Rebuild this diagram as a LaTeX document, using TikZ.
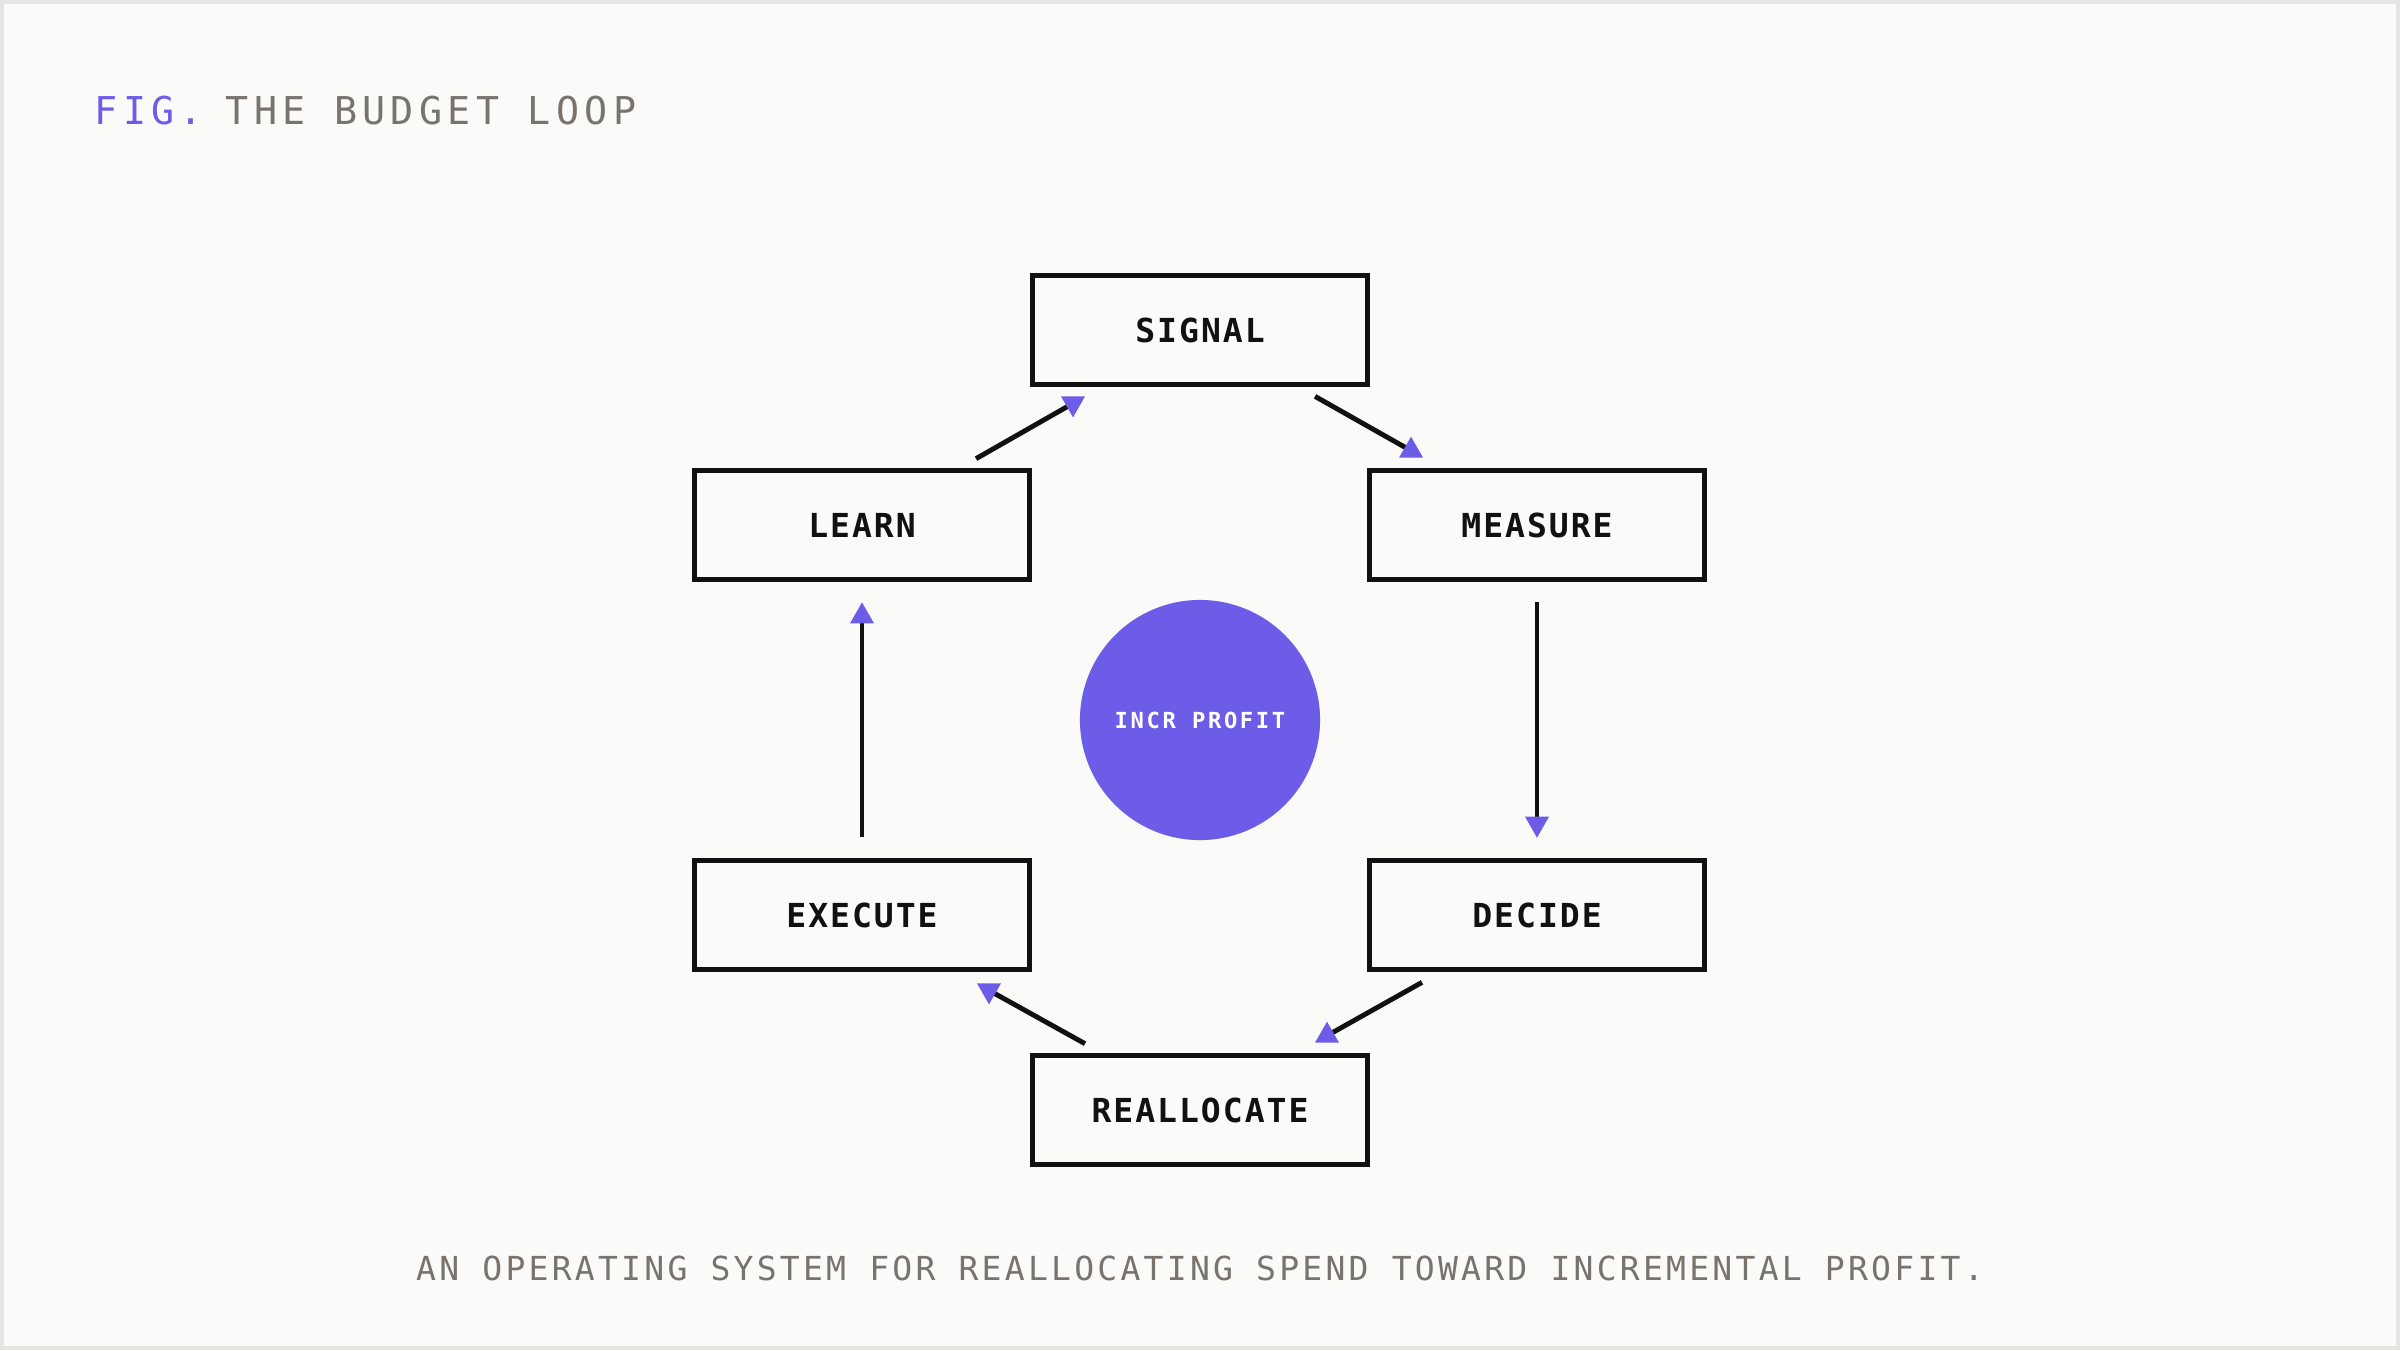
\documentclass[tikz,border=0pt]{standalone}
\usepackage{fontspec}
\usetikzlibrary{calc}
\definecolor{bg}{HTML}{FAFAF8}
\definecolor{frame}{HTML}{E6E5E3}
\definecolor{accent}{HTML}{6C5CE7}
\definecolor{ink}{HTML}{111111}
\definecolor{muted}{HTML}{78736D}
\newfontfamily\titlefont[LetterSpace=14]{DejaVu Sans Mono}
\newfontfamily\stagefont[LetterSpace=6]{DejaVu Sans Mono}
\newfontfamily\capfont[LetterSpace=9.8]{DejaVu Sans Mono}
\newfontfamily\circfont[LetterSpace=12]{DejaVu Sans Mono}
\newcommand\tipdown[1]{\fill[accent] ($(#1)+(-12,-7)$) -- ($(#1)+(12,-7)$) -- ($(#1)+(0,14)$) -- cycle;}
\newcommand\tipup[1]{\fill[accent] ($(#1)+(-12,7)$) -- ($(#1)+(12,7)$) -- ($(#1)+(0,-14)$) -- cycle;}
\begin{document}
\begin{tikzpicture}[x=0.01cm,y=-0.01cm,
  stage/.style={draw=ink, line width=1.45pt, fill=bg, rectangle, inner sep=0pt,
    minimum width=3.35cm, minimum height=1.095cm, text=ink,
    font=\stagefont\bfseries\fontsize{9.4pt}{11pt}\selectfont},
  flow/.style={draw=ink, line width=1.4pt},
  headtxt/.style={anchor=base west, inner sep=0pt, font=\titlefont\fontsize{10.9pt}{13pt}\selectfont}]
\useasboundingbox (0,0) rectangle (2400,1350);
\fill[bg] (0,0) rectangle (2400,1350);
\draw[frame, line width=1.14pt] (2,2) rectangle (2398,1348);

\node[headtxt, text=accent] (fig) at (94,124) {FIG.};
\node[headtxt, text=muted] (title) at (225,124) {THE BUDGET LOOP};

\node[stage] (signal) at (1200,330) {SIGNAL};
\node[stage] (learn) at (862,525) {LEARN};
\node[stage] (measure) at (1537,525) {MEASURE};
\node[stage] (execute) at (862,915) {EXECUTE};
\node[stage] (decide) at (1537,915) {DECIDE};
\node[stage] (realloc) at (1200,1110) {REALLOCATE};

\node[circle, fill=accent, minimum size=2.4cm, inner sep=0pt, text=white,
  font=\circfont\bfseries\fontsize{6.3pt}{8pt}\selectfont] (core) at (1200,720) {INCR PROFIT};

\coordinate (a1s) at ($(learn.north)+(114,-9)$);
\coordinate (a1e) at ($(signal.south)+(-127,16)$);
\coordinate (a2s) at ($(signal.south)+(115,9)$);
\coordinate (a2e) at ($(measure.north)+(-126,-17)$);
\coordinate (a3s) at ($(measure.south)+(0,20)$);
\coordinate (a3e) at ($(decide.north)+(0,-34)$);
\coordinate (a4s) at ($(decide.south)+(-115,10)$);
\coordinate (a4e) at ($(realloc.north)+(127,-17)$);
\coordinate (a5s) at ($(realloc.north)+(-115,-9)$);
\coordinate (a5e) at ($(execute.south)+(127,18)$);
\coordinate (a6s) at ($(execute.north)+(0,-21)$);
\coordinate (a6e) at ($(learn.south)+(0,34)$);

\draw[flow] (a1s) -- (a1e); \tipdown{a1e}
\draw[flow] (a2s) -- (a2e); \tipup{a2e}
\draw[flow] (a3s) -- (a3e); \tipdown{a3e}
\draw[flow] (a4s) -- (a4e); \tipup{a4e}
\draw[flow] (a5s) -- (a5e); \tipdown{a5e}
\draw[flow] (a6s) -- (a6e); \tipup{a6e}

\node[anchor=base, inner sep=0pt, text=muted, font=\capfont\fontsize{9.4pt}{11pt}\selectfont]
  (caption) at (1200,1280) {AN OPERATING SYSTEM FOR REALLOCATING SPEND TOWARD INCREMENTAL PROFIT.};
\end{tikzpicture}
\end{document}
